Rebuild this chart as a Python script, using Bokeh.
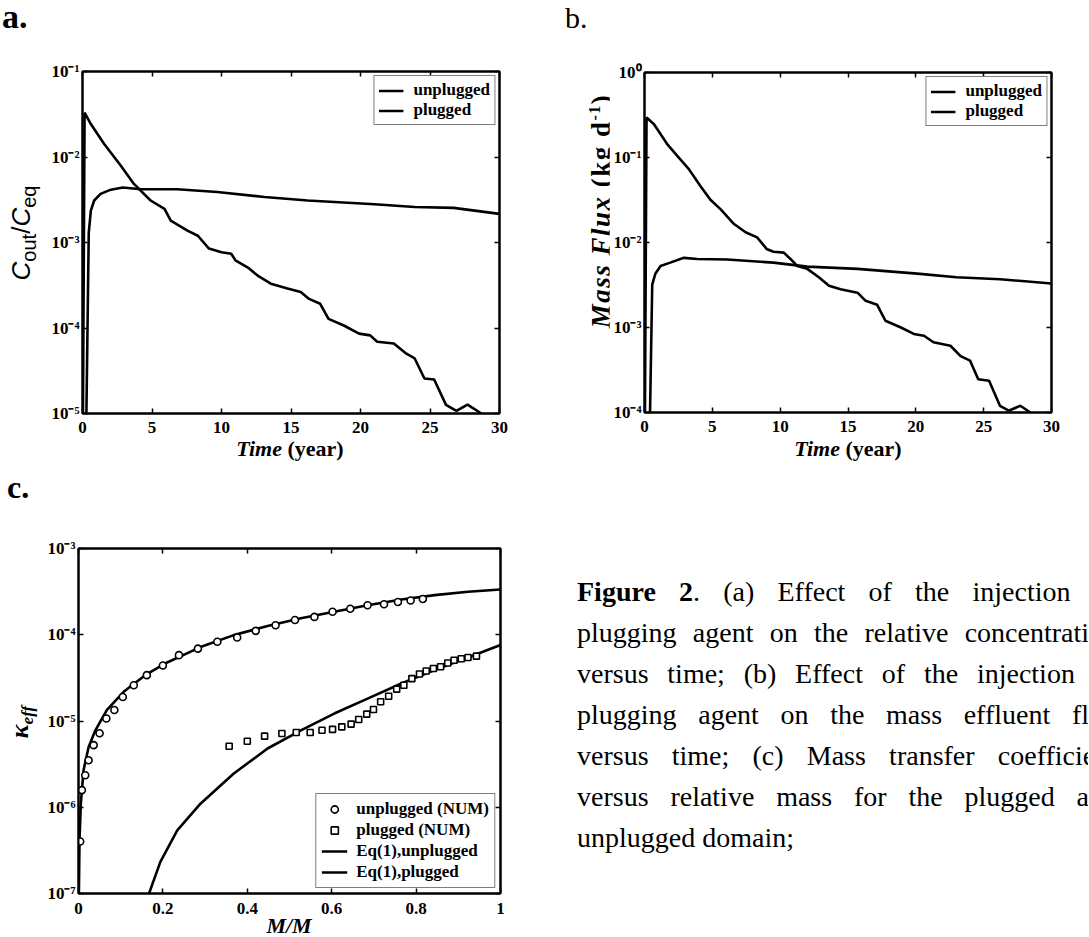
from bokeh.plotting import figure
from bokeh.models import (Legend, LegendItem, LogAxis, LinearAxis,
                          CustomJSTickFormatter, FixedTicker, Range1d, Div)
from bokeh.layouts import row, column
from bokeh.embed import file_html
from bokeh.resources import INLINE

# ---------------- data ----------------
# panel a : relative concentration vs time
a_unplugged_t = [0.0, 0.15, 0.6, 1.56, 2.76, 3.7, 4.9, 5.9, 6.35, 7.55, 8.3, 9.1, 10.0, 10.7, 11.0,
                 11.9, 12.6, 13.55, 14.75, 15.7, 16.3, 17.1, 17.7, 18.8, 19.9, 20.7, 21.2, 22.4,
                 23.3, 23.9, 24.6, 25.3, 26.15, 26.9, 27.7, 28.7, 29.0]
a_unplugged_y = [1e-6, 3.3e-2, 2.43e-2, 1.42e-2, 7.9e-3, 4.84e-3, 3.1e-3, 2.47e-3, 1.8e-3, 1.38e-3,
                 1.2e-3, 8.5e-4, 7.7e-4, 7.4e-4, 6.2e-4, 5.1e-4, 4.1e-4, 3.3e-4, 2.9e-4, 2.63e-4,
                 2.19e-4, 1.92e-4, 1.28e-4, 1.07e-4, 8.6e-5, 8.2e-5, 6.9e-5, 6.6e-5, 5.0e-5, 4.4e-5,
                 2.57e-5, 2.5e-5, 1.26e-5, 1.07e-5, 1.27e-5, 1.0e-5, 8e-6]
a_plugged_t = [0.2, 0.45, 0.6, 0.84, 1.3, 2.04, 2.9, 4.2, 6.8, 9.7, 13.1, 16.2, 21.0, 23.9, 26.7, 30.0]
a_plugged_y = [1e-6, 1.3e-3, 2.36e-3, 3.1e-3, 3.7e-3, 4.15e-3, 4.4e-3, 4.2e-3, 4.2e-3, 3.9e-3,
               3.4e-3, 3.1e-3, 2.8e-3, 2.6e-3, 2.54e-3, 2.16e-3]

# panel b : mass flux vs time
b_unplugged_t = [0.0, 0.15, 0.7, 1.67, 2.4, 3.27, 4.13, 4.86, 5.6, 6.6, 7.45, 8.3, 9.0, 9.5, 10.27,
                 10.76, 11.25, 12.0, 12.85, 13.6, 14.45, 15.7, 16.3, 17.15, 17.76, 18.9, 19.85,
                 20.6, 21.3, 22.55, 23.3, 24.0, 24.6, 25.4, 26.2, 26.85, 27.7, 28.45, 28.8]
b_unplugged_y = [1e-5, 0.295, 0.246, 0.144, 0.105, 0.073, 0.046, 0.0318, 0.0247, 0.0165, 0.0132,
                 0.0115, 0.0084, 0.0078, 0.0076, 0.0064, 0.0053, 0.0049, 0.0039, 0.0031, 0.00282,
                 0.00257, 0.00206, 0.00185, 0.0012, 0.001, 8.4e-4, 8.0e-4, 6.7e-4, 6.1e-4, 4.6e-4,
                 4.07e-4, 2.46e-4, 2.36e-4, 1.2e-4, 1.05e-4, 1.2e-4, 1.0e-4, 7e-5]
b_plugged_t = [0.3, 0.57, 0.8, 1.18, 1.9, 2.9, 3.9, 6.1, 9.5, 12.0, 15.7, 20.1, 23.0, 26.2, 30.0]
b_plugged_y = [1e-5, 3.2e-3, 4.3e-3, 5.3e-3, 5.8e-3, 6.6e-3, 6.4e-3, 6.3e-3, 5.8e-3, 5.2e-3,
               4.9e-3, 4.3e-3, 3.9e-3, 3.7e-3, 3.3e-3]

# panel c : mass transfer coefficient vs relative mass
c_unpl_num_x = [0.004, 0.008, 0.016, 0.024, 0.036, 0.05, 0.066, 0.085, 0.105, 0.131, 0.162, 0.2,
                0.238, 0.283, 0.329, 0.376, 0.42, 0.467, 0.513, 0.559, 0.602, 0.644, 0.685, 0.724,
                0.757, 0.787, 0.816]
c_unpl_num_y = [4.0e-7, 1.58e-6, 2.35e-6, 3.5e-6, 5.25e-6, 7.2e-6, 1.07e-5, 1.34e-5, 1.9e-5, 2.6e-5,
                3.4e-5, 4.4e-5, 5.8e-5, 6.9e-5, 8.3e-5, 9.3e-5, 1.11e-4, 1.29e-4, 1.48e-4, 1.61e-4,
                1.85e-4, 2.0e-4, 2.2e-4, 2.26e-4, 2.4e-4, 2.5e-4, 2.6e-4]
c_pl_num_x = [0.357, 0.4, 0.441, 0.482, 0.516, 0.549, 0.577, 0.602, 0.624, 0.646, 0.664, 0.683,
              0.699, 0.716, 0.735, 0.754, 0.771, 0.79, 0.808, 0.824, 0.841, 0.858, 0.875, 0.89,
              0.907, 0.923, 0.943]
c_pl_num_y = [5.1e-6, 5.83e-6, 6.67e-6, 7.16e-6, 7.36e-6, 7.36e-6, 7.8e-6, 8.0e-6, 8.55e-6, 9.2e-6,
              1.04e-5, 1.2e-5, 1.36e-5, 1.67e-5, 1.94e-5, 2.34e-5, 2.6e-5, 3.1e-5, 3.5e-5, 3.8e-5,
              4.06e-5, 4.25e-5, 4.7e-5, 5.07e-5, 5.26e-5, 5.45e-5, 5.65e-5]
c_eq_unpl_x = [0.0002, 0.0024, 0.0055, 0.012, 0.024, 0.04, 0.067, 0.107, 0.162, 0.21, 0.289, 0.368,
               0.448, 0.527, 0.606, 0.685, 0.765, 0.844, 0.923, 1.0]
c_eq_unpl_y = [5e-8, 4.2e-7, 1.1e-6, 2.7e-6, 5.0e-6, 7.8e-6, 1.34e-5, 2.18e-5, 3.5e-5, 4.77e-5,
               7.2e-5, 9.9e-5, 1.26e-4, 1.55e-4, 1.85e-4, 2.2e-4, 2.56e-4, 2.88e-4, 3.15e-4, 3.35e-4]
c_eq_pl_x = [0.16, 0.194, 0.234, 0.289, 0.368, 0.448, 0.527, 0.606, 0.685, 0.765, 0.844, 0.923, 1.0]
c_eq_pl_y = [8e-8, 2.33e-7, 5.4e-7, 1.1e-6, 2.46e-6, 4.8e-6, 7.8e-6, 1.22e-5, 1.82e-5, 2.72e-5,
             3.9e-5, 5.45e-5, 7.6e-5]

time_ticks = [0, 5, 10, 15, 20, 25, 30]
mass_ticks = [0, 0.2, 0.4, 0.6, 0.8, 1.0]
a_log_ticks = [1e-5, 1e-4, 1e-3, 1e-2, 1e-1]
b_log_ticks = [1e-4, 1e-3, 1e-2, 1e-1, 1e0]
c_log_ticks = [1e-7, 1e-6, 1e-5, 1e-4, 1e-3]

caption_lines = [
    "<b>Figure 2</b>. (a) Effect of the injection of",
    "plugging agent on the relative concentration",
    "versus time; (b) Effect of the injection of",
    "plugging agent on the mass effluent flux",
    "versus time; (c) Mass transfer coefficient",
    "versus relative mass for the plugged and",
    "unplugged domain;",
]

SERIF = "Liberation Serif"
SANS = "Liberation Sans"
LW = 2.6

LOG_CODE = """
const sup = {"-":"\\u207b","0":"\\u2070","1":"\\u00b9","2":"\\u00b2","3":"\\u00b3","4":"\\u2074",
             "5":"\\u2075","6":"\\u2076","7":"\\u2077","8":"\\u2078","9":"\\u2079"};
const e = Math.round(Math.log10(tick));
return "10" + String(e).split("").map(c => sup[c]).join("");
"""
LIN_CODE = """
if (Math.abs(tick - Math.round(tick)) < 1e-9) { return String(Math.round(tick)); }
return tick.toFixed(1);
"""
EMPTY_CODE = "return '';"


def make_panel(width, height, bl, br, bt, bb, xr, yr, xticks, yticks, xstand):
    p = figure(width=width, height=height, x_range=Range1d(*xr), y_range=Range1d(*yr),
               y_axis_type="log", output_backend="svg", toolbar_location=None,
               min_border_left=bl, min_border_right=br, min_border_top=bt, min_border_bottom=bb)
    p.grid.visible = False
    p.outline_line_color = "black"
    p.outline_line_width = 2
    p.background_fill_color = "white"
    p.border_fill_color = "white"
    p.xaxis.ticker = FixedTicker(ticks=xticks)
    p.yaxis.ticker = FixedTicker(ticks=yticks)
    p.xaxis.formatter = CustomJSTickFormatter(code=LIN_CODE)
    p.yaxis.formatter = CustomJSTickFormatter(code=LOG_CODE)
    p.xaxis.major_label_standoff = xstand
    p.yaxis.major_label_standoff = 3
    p.add_layout(LogAxis(ticker=FixedTicker(ticks=yticks),
                         formatter=CustomJSTickFormatter(code=EMPTY_CODE)), "right")
    p.add_layout(LinearAxis(ticker=FixedTicker(ticks=xticks),
                            formatter=CustomJSTickFormatter(code=EMPTY_CODE)), "above")
    for ax in p.axis:
        ax.axis_line_width = 2
        ax.axis_line_color = "black"
        ax.major_tick_in = 5
        ax.major_tick_out = 0
        ax.major_tick_line_width = 1.5
        ax.minor_tick_line_color = None
        ax.major_label_text_font = SERIF
        ax.major_label_text_font_style = "bold"
        ax.major_label_text_font_size = "17px"
        ax.major_label_text_color = "black"
    for ax in p.right + p.above:
        ax.major_label_standoff = 0
        ax.major_label_text_font_size = "4px"
    return p


def style_legend(leg, size):
    leg.border_line_color = "black"
    leg.border_line_width = 1
    leg.background_fill_color = "white"
    leg.background_fill_alpha = 1
    leg.label_text_font = SERIF
    leg.label_text_font_style = "bold"
    leg.label_text_font_size = f"{size}px"
    leg.label_text_color = "black"
    leg.glyph_width = 25
    leg.label_standoff = 10
    leg.spacing = 0
    leg.margin = 4


def htext(x, baseline, html, size, font=SERIF, center=False):
    top = baseline - 0.8375 * size
    tr = "transform:translateX(-50%);" if center else ""
    return (f'<div style="position:absolute;left:{x}px;top:{top:.1f}px;{tr}white-space:nowrap;'
            f'font-family:\'{font}\';font-size:{size}px;line-height:{size}px;color:black;">'
            f'{html}</div>')


def vtext(cx, cy, html, size, font=SERIF, extra=""):
    return (f'<div style="position:absolute;left:{cx}px;top:{cy}px;'
            f'transform:translate(-50%,-50%) rotate(-90deg);white-space:nowrap;'
            f'font-family:\'{font}\';font-size:{size}px;line-height:{size}px;color:black;{extra}">'
            f'{html}</div>')


def strip(w, h, parts):
    html = (f'<div style="position:relative;width:{w}px;height:{h}px;overflow:visible;">'
            + "".join(parts) + '</div>')
    return Div(text=html, width=w, height=h, margin=0)


# ---------------- panel a ----------------
pa = make_panel(495, 390, 37, 41, 21, 27, (0, 30), (1e-5, 1e-1), time_ticks, a_log_ticks, 8)
ra1 = pa.line(a_unplugged_t, a_unplugged_y, line_color="black", line_width=LW)
ra2 = pa.line(a_plugged_t, a_plugged_y, line_color="black", line_width=LW)
lega = Legend(items=[LegendItem(label="unplugged", renderers=[ra1]),
                     LegendItem(label="plugged", renderers=[ra2])],
              location="top_right", padding=4, label_height=17, glyph_height=17)
style_legend(lega, 17)
pa.add_layout(lega)

a_top = strip(540, 50, [htext(2, 28, "<b>a.</b>", 34)])
a_left = strip(45, 390, [vtext(25, 183,
    '<i>C</i><span style="font-size:20px;vertical-align:-6px;">out</span>'
    '/<i>C</i><span style="font-size:20px;vertical-align:-6px;">eq</span>', 26, SANS)])
a_bottom = strip(540, 25, [htext(290, 16, "<b><i>Time</i> (year)</b>", 22, center=True)])
block_a = column(a_top, row(a_left, pa), a_bottom)

# ---------------- panel b ----------------
pb = make_panel(479, 390, 35, 37, 22, 28, (0, 30), (1e-4, 1e0), time_ticks, b_log_ticks, 8)
rb1 = pb.line(b_unplugged_t, b_unplugged_y, line_color="black", line_width=LW)
rb2 = pb.line(b_plugged_t, b_plugged_y, line_color="black", line_width=LW)
legb = Legend(items=[LegendItem(label="unplugged", renderers=[rb1]),
                     LegendItem(label="plugged", renderers=[rb2])],
              location="top_right", padding=4, label_height=17, glyph_height=17)
style_legend(legb, 17)
pb.add_layout(legb)

b_top = strip(548, 50, [htext(25, 28, "b.", 30)])
b_left = strip(69, 390, [vtext(58, 161,
    '<b><i>Mass Flux</i> (kg d<sup style="font-size:16px;">-1</sup>)</b>', 27,
    extra="letter-spacing:1.5px;")])
b_bottom = strip(548, 25, [htext(308, 16, "<b><i>Time</i> (year)</b>", 22, center=True)])
block_b = column(b_top, row(b_left, pb), b_bottom)

# ---------------- panel c ----------------
pc = make_panel(496, 387, 34, 40, 18, 24, (0, 1), (1e-7, 1e-3), mass_ticks, c_log_ticks, 9)
rc3 = pc.line(c_eq_unpl_x, c_eq_unpl_y, line_color="black", line_width=LW)
rc4 = pc.line(c_eq_pl_x, c_eq_pl_y, line_color="black", line_width=LW)
rc1 = pc.scatter(c_unpl_num_x, c_unpl_num_y, marker="circle", size=7, fill_color="white",
                 line_color="black", line_width=1.6)
rc2 = pc.scatter(c_pl_num_x, c_pl_num_y, marker="square", size=6, fill_color="white",
                 line_color="black", line_width=1.6)
legc = Legend(items=[LegendItem(label="unplugged (NUM)", renderers=[rc1]),
                     LegendItem(label="plugged (NUM)", renderers=[rc2]),
                     LegendItem(label="Eq(1),unplugged", renderers=[rc3]),
                     LegendItem(label="Eq(1),plugged", renderers=[rc4])],
              location="bottom_right", padding=5, label_height=18, glyph_height=18)
style_legend(legc, 17)
legc.glyph_width = 26
legc.label_standoff = 9
legc.spacing = 1
legc.margin = 5
pc.add_layout(legc)

c_top = strip(540, 65, [htext(7, 33, "<b>c.</b>", 32)])
c_left = strip(44, 387, [vtext(24, 192,
    '<b><i>\u03ba<span style="font-size:17px;vertical-align:-5px;">eff</span></i></b>', 26)])
c_bottom = strip(540, 19, [htext(289, 16, "<b><i>M/M</i></b>", 22, center=True)])
block_c = column(c_top, row(c_left, pc), c_bottom)

# ---------------- caption ----------------
inner = []
for i, line in enumerate(caption_lines):
    last = "left" if i == len(caption_lines) - 1 else "justify"
    inner.append(f'<div style="width:540px;white-space:normal;text-align:justify;'
                 f'text-align-last:{last};">{line}</div>')
cap_html = ('<div style="width:548px;height:471px;overflow:hidden;position:relative;'
            'font-family:\'Liberation Serif\';font-size:28px;line-height:41px;color:black;">'
            '<div style="position:absolute;left:37px;top:106px;width:560px;">'
            + "".join(inner) + '</div></div>')
cap = Div(text=cap_html, width=548, height=471, margin=0)

layout = column(row(block_a, block_b), row(block_c, cap))
open("out.html", "w").write(file_html(layout, INLINE))
